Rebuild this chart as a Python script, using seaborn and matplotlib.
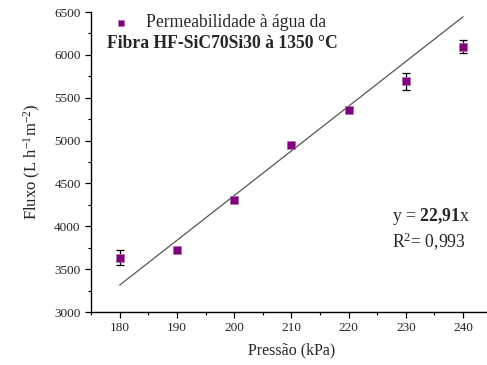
import matplotlib
matplotlib.use("Agg")
import matplotlib.pyplot as plt
import seaborn as sns
import pandas as pd
from matplotlib.ticker import MultipleLocator

pressao = [180, 190, 200, 210, 220, 230, 240]
fluxo = [3635, 3725, 4312, 4945, 5362, 5690, 6098]
erro = [90, 20, 25, 20, 20, 95, 75]
fit_x = [180, 240]
fit_y = [3315, 6445]

sns.set_style("ticks")
plt.rcParams["font.family"] = ["Liberation Serif", "DejaVu Serif"]
plt.rcParams["mathtext.fontset"] = "custom"
plt.rcParams["mathtext.rm"] = "Liberation Serif"
plt.rcParams["mathtext.it"] = "Liberation Serif:italic"
plt.rcParams["mathtext.bf"] = "Liberation Serif:bold"

df = pd.DataFrame({"Pressao": pressao, "Fluxo": fluxo})

fig = plt.figure(figsize=(4.87, 3.65), dpi=100)
ax = fig.add_axes([0.187, 0.145, 0.8226, 0.822])

sns.lineplot(x=fit_x, y=fit_y, ax=ax, color="#555555", lw=0.9, zorder=1)
ax.errorbar(pressao, fluxo, yerr=erro, fmt="none", ecolor="black",
            elinewidth=0.9, capsize=3, capthick=0.9, zorder=2)
sns.scatterplot(data=df, x="Pressao", y="Fluxo", ax=ax, marker="s", s=34,
                color="#800080", edgecolor="#b070b0", linewidth=0.5,
                zorder=3, label="Permeabilidade à água da")

ax.set_xlim(175, 245)
ax.set_ylim(3000, 6500)
ax.set_xticks([180, 190, 200, 210, 220, 230, 240])
ax.xaxis.set_minor_locator(MultipleLocator(5))
ax.yaxis.set_major_locator(MultipleLocator(500))
ax.yaxis.set_minor_locator(MultipleLocator(250))
ax.tick_params(axis="both", which="major", labelsize=9.5, length=4, width=0.9, color="black")
ax.tick_params(axis="both", which="minor", length=2.5, width=0.8, color="black")
sns.despine(ax=ax)
for s in ["left", "bottom"]:
    ax.spines[s].set_color("black")
    ax.spines[s].set_linewidth(1.0)

ax.set_xlabel("Pressão (kPa)", fontsize=11.5, labelpad=6)
ax.set_ylabel("Fluxo (L h$^{-1}$m$^{-2}$)", fontsize=12, labelpad=8)

leg = ax.legend(loc="upper left", bbox_to_anchor=(-0.01, 1.045), frameon=False,
                fontsize=12.7, handletextpad=0.45, markerscale=0.75)
ax.text(0.04, 0.895, "Fibra HF-SiC70Si30 à 1350 °C", transform=ax.transAxes,
        fontsize=12.7, fontweight="bold", va="center", ha="left")

ax.text(0.75, 0.32, "y = $\\mathbf{22{,}91}$x", transform=ax.transAxes,
        fontsize=12.7, va="center", ha="left")
ax.text(0.75, 0.235, "R$^2$= 0,993", transform=ax.transAxes,
        fontsize=12.7, va="center", ha="left")

fig.savefig("out.png", dpi=100)
